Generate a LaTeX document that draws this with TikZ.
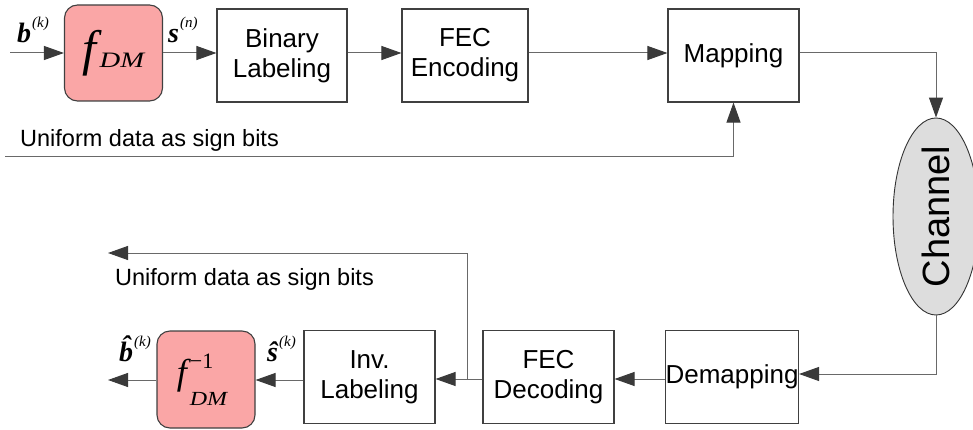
\documentclass[tikz,border=0pt]{standalone}
\usepackage{fontspec}
\setmainfont{Liberation Sans}
\newfontfamily\tnr{Liberation Serif}
\usetikzlibrary{arrows.meta,shapes.geometric}
\definecolor{dmred}{RGB}{250,166,166}
\definecolor{chgray}{RGB}{221,221,221}
\definecolor{lngray}{RGB}{105,105,105}
\definecolor{tipgray}{RGB}{58,58,58}
\newcommand{\supk}[1]{\kern1pt\raisebox{15pt}{\fontsize{15}{15}\selectfont\mdseries\itshape(#1)}}

\begin{document}
\begin{tikzpicture}[x=1pt,y=-1pt,
  blk/.style={draw=black!75,line width=1.1pt,minimum width=130pt,minimum height=93pt,
              align=center,inner sep=0pt,font=\fontsize{26}{30}\selectfont},
  dm/.style={blk,rounded corners=13pt,fill=dmred,minimum width=98pt,minimum height=96pt},
  lbl/.style={inner sep=0pt,anchor=base west,font=\fontsize{23.5}{28}\selectfont},
  sym/.style={inner sep=0pt,anchor=base west,font=\tnr\bfseries\itshape\fontsize{28}{28}\selectfont},
  line/.style={draw=lngray,line width=1pt},
  >={Triangle[length=20pt,width=14pt,color=tipgray]}]
\useasboundingbox (0,0) rectangle (973,430);
% transmitter
\node[dm]  (fdm) at (113.5,53) {{\tnr\itshape\fontsize{50}{50}\selectfont f}\kern3pt\raisebox{-2pt}{\scalebox{1.3}[1]{\tnr\itshape\fontsize{22}{22}\selectfont DM}}};
\node[blk] (bin) at (282,55.5) {Binary\\Labeling};
\node[blk,minimum width=126pt] (fec) at (465,55.5) {FEC\\Encoding};
\node[blk,minimum width=131pt] (map) at (733.5,55.5) {Mapping};
\node[ellipse,draw=black!80,line width=0.9pt,fill=chgray,minimum width=86pt,minimum height=197pt,inner sep=0pt]
  (chan) at (936,216.5) {};
\node[rotate=90,font=\fontsize{38}{38}\selectfont] (chtxt) at (chan.center) {Channel};
% receiver
\node[blk] (demap) at (732,377) {Demapping};
\node[blk,minimum width=131pt] (fecdec) at (548.5,377) {FEC\\Decoding};
\node[blk,minimum width=131pt] (inv) at (369.5,377) {Inv.\\Labeling};
\node[dm,minimum height=97pt] (finv) at (206,379.5) {{\tnr\itshape\fontsize{36}{36}\selectfont f}\kern3pt\rlap{\raisebox{16pt}{\tnr\fontsize{22}{22}\selectfont −1}}\raisebox{-21pt}{\scalebox{1.2}[1]{\tnr\itshape\fontsize{20}{20}\selectfont DM}}\kern8pt};
% labels
\node[sym] (bk) at (17,43) {b\supk{k}};
\node[sym] (sn) at (168,43) {s\supk{n}};
\node[sym] (bh) at (119,361) {\^{b}\supk{k}};
\node[sym] (sh) at (267,361) {\^{s}\supk{k}};
\node[lbl] (utop) at (20,147) {Uniform data as sign bits};
\node[lbl] (ubot) at (115,285) {Uniform data as sign bits};
\coordinate (in)  at (10,53);
\coordinate (sgn) at (5,157);
\coordinate (tap) at (467,379);
\coordinate (out) at (108,380);
\coordinate (fb)  at (108,253);
% connectors
\draw[line,->] (in) -- (fdm);
\draw[line,->] (fdm.east) -- (fdm.east -| bin.west);
\draw[line,->] (fdm.east -| bin.east) -- (fdm.east -| fec.west);
\draw[line,->] (fdm.east -| fec.east) -- (fdm.east -| map.west);
\draw[line,->] (map.east |- fdm.east) -| (chan.north);
\draw[line,->] (sgn) -| (map.south);
\draw[line,->] (chan.south) |- (demap.east |- 0,374);
\draw[line,->] (demap.west |- tap) -- (fecdec.east |- tap);
\draw[line,->] (fecdec.west |- tap) -- (inv.east |- tap);
\draw[line,->] (tap) |- (fb);
\draw[line,->] (inv.west |- out) -- (finv.east |- out);
\draw[line,->] (finv.west |- out) -- (out);
\end{tikzpicture}
\end{document}
